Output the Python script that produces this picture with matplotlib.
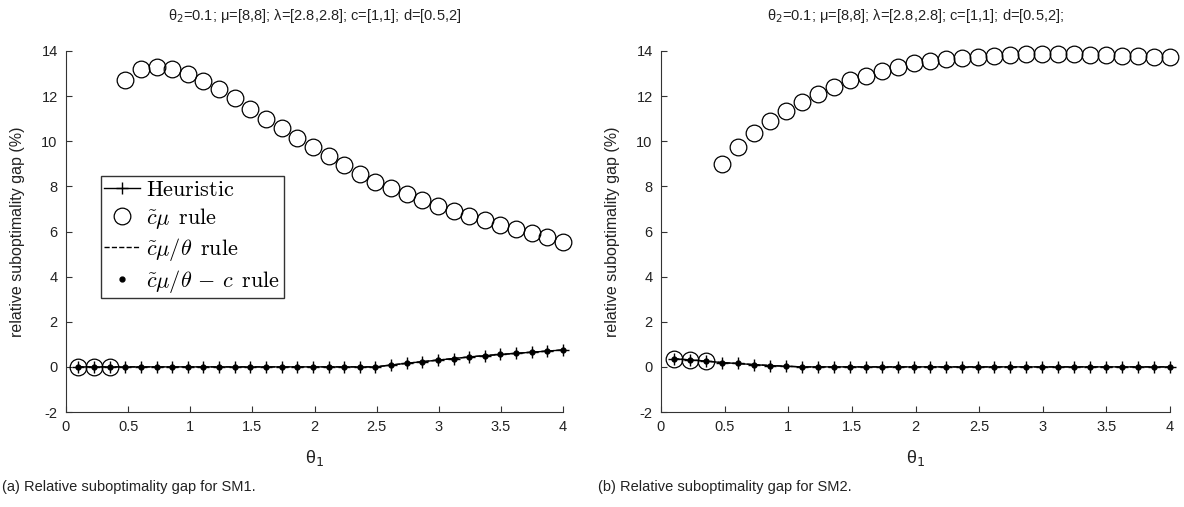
import matplotlib
matplotlib.use("Agg")
import matplotlib.pyplot as plt
import numpy as np
from matplotlib.font_manager import FontProperties

plt.rcParams['font.family'] = ['Liberation Sans', 'DejaVu Sans']
plt.rcParams['axes.unicode_minus'] = False

# theta_1 grid (32 points)
theta1 = np.linspace(0.1, 4, 32)

# SM1
heur_sm1 = [0, 0, 0, 0, 0, 0, 0, 0, 0, 0, 0, 0, 0, 0, 0, 0, 0, 0, 0, 0,
            0.08, 0.16, 0.23, 0.30, 0.37, 0.44, 0.50, 0.55, 0.60, 0.65, 0.70, 0.75]
cmu_sm1 = [0, 0, 0, 12.7, 13.2, 13.3, 13.2, 13.0, 12.65, 12.3, 11.9, 11.45, 11.0,
           10.6, 10.15, 9.75, 9.35, 8.95, 8.55, 8.2, 7.95, 7.65, 7.4, 7.15, 6.9,
           6.7, 6.5, 6.3, 6.1, 5.95, 5.75, 5.55]

# SM2
heur_sm2 = [0.36, 0.31, 0.26, 0.19, 0.15, 0.10, 0.06, 0.03, 0, 0, 0, 0, 0, 0, 0, 0,
            0, 0, 0, 0, 0, 0, 0, 0, 0, 0, 0, 0, 0, 0, 0, 0]
cmu_sm2 = [0.36, 0.31, 0.26, 9.0, 9.75, 10.35, 10.9, 11.35, 11.75, 12.1, 12.4, 12.7,
           12.9, 13.1, 13.3, 13.45, 13.55, 13.65, 13.7, 13.75, 13.8, 13.82, 13.85,
           13.85, 13.85, 13.85, 13.83, 13.82, 13.8, 13.78, 13.75, 13.72]

title_sm1 = r"θ$_2$=0.1; μ=[8,8]; λ=[2.8,2.8]; c=[1,1]; d=[0.5,2]"
title_sm2 = r"θ$_2$=0.1; μ=[8,8]; λ=[2.8,2.8]; c=[1,1]; d=[0.5,2];"
captions = ["(a) Relative suboptimality gap for SM1.", "(b) Relative suboptimality gap for SM2."]
legend_labels = [r"$\mathrm{Heuristic}$", r"$\tilde{c}\mu\ \,\mathrm{rule}$",
                 r"$\tilde{c}\mu/\theta\ \,\mathrm{rule}$",
                 r"$\tilde{c}\mu/\theta\, -\, c\ \,\mathrm{rule}$"]

fig = plt.figure(figsize=(11.84, 5.07), dpi=100)
ax1 = fig.add_axes([66/1184, 1 - 412/507, (563-66)/1184, (412-51)/507])
ax2 = fig.add_axes([661/1184, 1 - 412/507, (1170-661)/1184, (412-51)/507])

tc = '#222222'
for ax, heur, cmu, ttl, cap, cx in [(ax1, heur_sm1, cmu_sm1, title_sm1, captions[0], 0.002),
                                    (ax2, heur_sm2, cmu_sm2, title_sm2, captions[1], 0.505)]:
    h1, = ax.plot(theta1, heur, '-', color='k', lw=1, marker='+', ms=8, mew=1, clip_on=False)
    h2, = ax.plot(theta1, cmu, 'o', color='k', mfc='none', ms=12, mew=0.9, ls='none',
                  clip_on=False)
    h3, = ax.plot(theta1, heur, '--', color='k', lw=1, clip_on=False)
    h4, = ax.plot(theta1, heur, '.', color='k', ms=7, ls='none', clip_on=False)
    ax.set_xlim(0, 4)
    ax.set_ylim(-2, 14)
    ax.set_xticks(np.arange(0, 4.01, 0.5))
    ax.set_xticklabels(['0', '0.5', '1', '1.5', '2', '2.5', '3', '3.5', '4'])
    ax.set_yticks(np.arange(-2, 15, 2))
    ax.spines['top'].set_visible(False)
    ax.spines['right'].set_visible(False)
    ax.spines['left'].set_color('#333333')
    ax.spines['bottom'].set_color('#333333')
    ax.spines['left'].set_linewidth(0.8)
    ax.spines['bottom'].set_linewidth(0.8)
    ax.tick_params(direction='in', length=4, width=0.8, colors='#333333',
                   labelsize=10.5, labelcolor=tc, pad=6)
    ax.set_xlabel(r"θ$_1$", fontsize=13, color=tc, labelpad=10)
    ax.set_ylabel("relative suboptimality gap (%)", fontsize=11.5, color=tc, labelpad=12)
    ax.set_title(ttl, fontsize=10.5, color=tc, pad=22)
    fig.text(cx, 0.025, cap, fontsize=10.5, color=tc, ha='left', va='bottom')

    if ax is ax1:
        prop = FontProperties(family='DejaVu Serif', size=16, math_fontfamily='cm')
        leg = ax.legend([h1, h2, h3, h4], legend_labels, prop=prop,
                        loc='upper left', bbox_to_anchor=(0.07, 0.655),
                        frameon=True, fancybox=False, edgecolor='k',
                        handlelength=1.6, handletextpad=0.3, borderpad=0.15,
                        labelspacing=0.22, borderaxespad=0)
        leg.get_frame().set_linewidth(1.0)

fig.savefig("out.png", dpi=100)
